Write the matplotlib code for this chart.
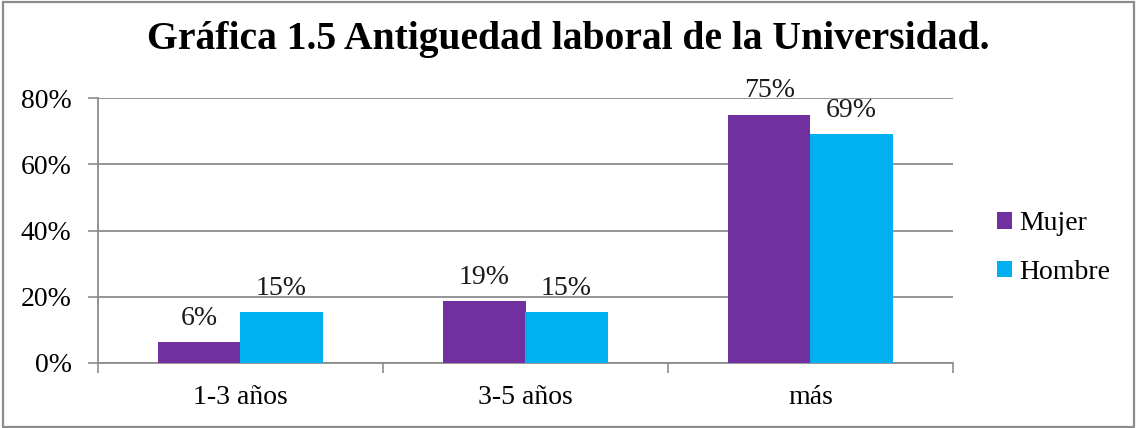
import matplotlib
matplotlib.use("Agg")
import matplotlib.pyplot as plt
import numpy as np
from matplotlib.patches import Rectangle

categories = ["1-3 años", "3-5 años", "más"]
mujer = [6.25, 18.75, 75.0]
hombre = [15.38, 15.38, 69.23]
mujer_labels = ["6%", "19%", "75%"]
hombre_labels = ["15%", "15%", "69%"]
yticks = [0, 20, 40, 60, 80]
ytick_labels = ["0%", "20%", "40%", "60%", "80%"]
title = "Gráfica 1.5 Antiguedad laboral de la Universidad."

serif = ["Liberation Serif", "DejaVu Serif"]
plt.rcParams['font.family'] = serif

W, H = 1136, 428
fig = plt.figure(figsize=(W / 100, H / 100), dpi=100)
fig.patch.set_facecolor("white")
fig.add_artist(Rectangle((2.5 / W, 1.5 / H), (W - 4.5) / W, (H - 3.5) / H,
                         transform=fig.transFigure, fill=False,
                         edgecolor="#8c8c8c", linewidth=1.6))

ax = fig.add_axes([98 / W, 1 - 363 / H, (953 - 98) / W, (363 - 98) / H])
x = np.arange(len(categories))
bw = 0.288
b1 = ax.bar(x - bw / 2, mujer, bw, color="#7030A0", label="Mujer", zorder=3)
b2 = ax.bar(x + bw / 2, hombre, bw, color="#00B0F0", label="Hombre", zorder=3)

for bars, labs in ((b1, mujer_labels), (b2, hombre_labels)):
    for r, lab in zip(bars, labs):
        ax.annotate(lab, (r.get_x() + r.get_width() / 2, r.get_height()),
                    xytext=(0, 8), textcoords="offset points",
                    ha="center", va="bottom", fontsize=20, color="#1a1a1a")

ax.set_xlim(-0.5, len(categories) - 0.5)
ax.set_ylim(0, 80)
ax.set_yticks(yticks)
ax.set_yticklabels(ytick_labels, fontsize=20)
ax.set_xticks(x)
ax.set_xticklabels(categories, fontsize=20)
ax.set_xticks(np.arange(len(categories) + 1) - 0.5, minor=True)
ax.tick_params(axis="x", which="major", length=0, pad=16)
ax.tick_params(axis="x", which="minor", length=7, color="#8c8c8c", width=1.2, direction="out")
ax.tick_params(axis="y", length=7, color="#8c8c8c", width=1.2, pad=12)
ax.grid(axis="y", color="#8c8c8c", linewidth=1.3, zorder=0)
for s in ["top", "right"]:
    ax.spines[s].set_visible(False)
for s in ["left", "bottom"]:
    ax.spines[s].set_color("#8c8c8c")
    ax.spines[s].set_linewidth(1.3)
ax.spines["left"].set_bounds(0, 80)

fig.text(568 / W, 1 - 40 / H, title, ha="center", va="center",
         fontsize=28.5, fontweight="bold", color="black")

leg = fig.legend(handles=[b1, b2], labels=["Mujer", "Hombre"],
                 loc="center left", bbox_to_anchor=(972 / W, 1 - 248 / H),
                 frameon=False, fontsize=20, handlelength=0.55, handleheight=0.55,
                 handletextpad=0.25, labelspacing=0.85)

fig.savefig("out.png", dpi=100, facecolor="white")
